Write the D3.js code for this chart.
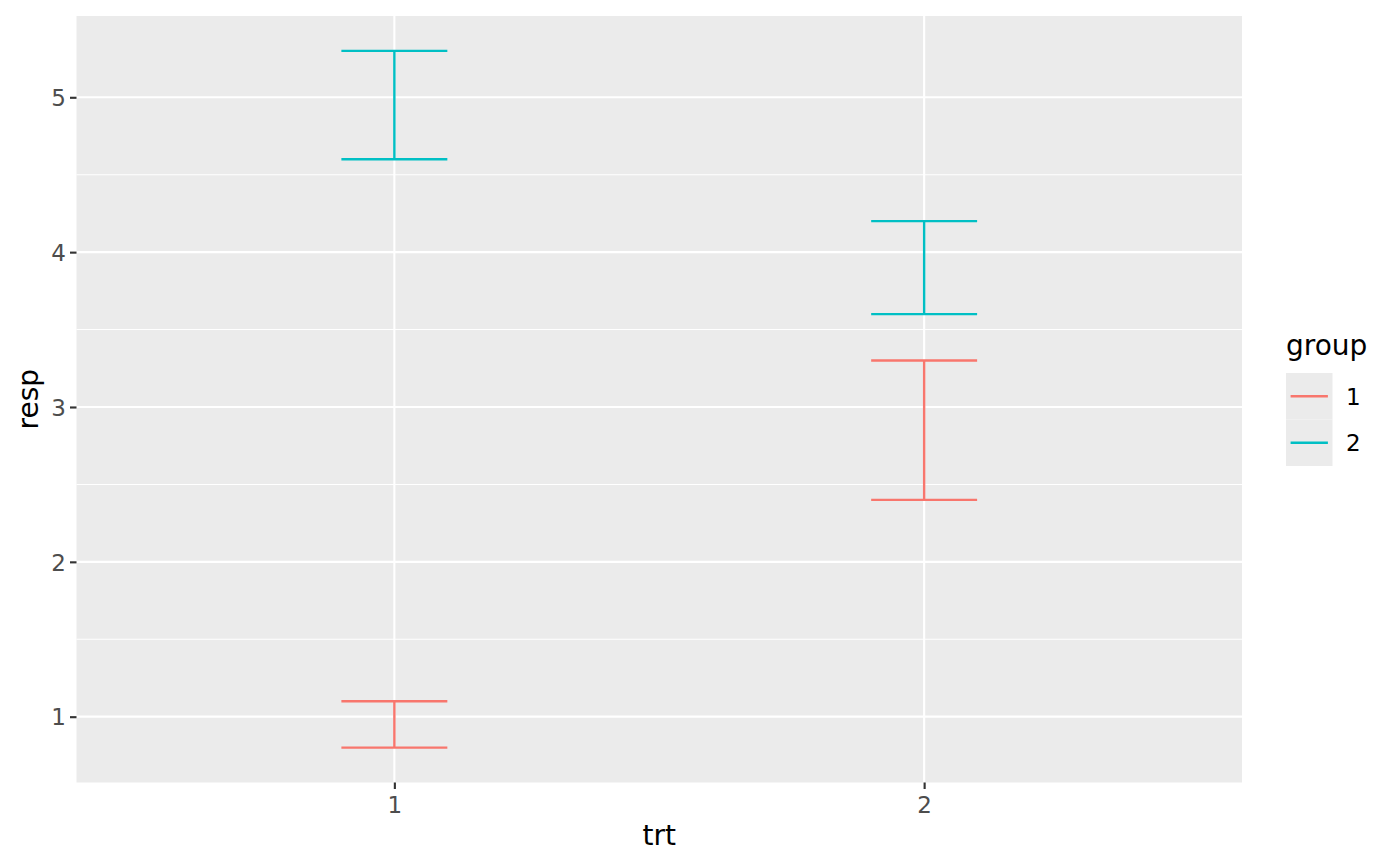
<!DOCTYPE html>
<html><head><meta charset="utf-8">
<script src="https://cdn.jsdelivr.net/npm/d3@7"></script>
<style>body{margin:0;background:#fff}text{font-family:"DejaVu Sans",sans-serif}</style>
</head><body><svg id="c" width="1400" height="866"></svg>
<script>
const trt = ["1","2"];
const groups = ["1","2"];
const colors = ["#F8766D","#00BFC4"];
const group = ["1","2","1","2"];
const trtOf = ["1","1","2","2"];
const lower = [0.8,4.6,2.4,3.6];
const upper = [1.1,5.3,3.3,4.2];
const yTicks = [1,2,3,4,5];

const svg = d3.select("#c");
const L=76.5, R=1242, T=16, B=782.5;
const xl = d3.scaleLinear().domain([0.4,2.6]).range([L,R]);
const y = d3.scaleLinear().domain([0.575,5.525]).range([B,T]);
const xOf = t => xl(+t);

svg.append("rect").attr("x",L).attr("y",T).attr("width",R-L).attr("height",B-T).attr("fill","#EBEBEB");
const minor = d3.range(1.5,5.5,1);
svg.selectAll(".ym").data(minor).join("line").attr("x1",L).attr("x2",R).attr("y1",d=>y(d)).attr("y2",d=>y(d)).attr("stroke","#fff").attr("stroke-width",1.07);
svg.selectAll(".yM").data(yTicks).join("line").attr("x1",L).attr("x2",R).attr("y1",d=>y(d)).attr("y2",d=>y(d)).attr("stroke","#fff").attr("stroke-width",2.13);
svg.selectAll(".xM").data(trt).join("line").attr("x1",d=>xOf(d)).attr("x2",d=>xOf(d)).attr("y1",T).attr("y2",B).attr("stroke","#fff").attr("stroke-width",2.13);

const ya = d3.axisLeft(y).tickValues(yTicks).tickFormat(d3.format("d")).tickSize(6.5).tickPadding(4);
const gy = svg.append("g").attr("transform",`translate(${L},0)`).call(ya);
const xa = d3.axisBottom(xl).tickValues(trt.map(Number)).tickFormat(d=>String(d)).tickSize(6.5).tickPadding(4);
const gx = svg.append("g").attr("transform",`translate(0,${B})`).call(xa);
[gx,gy].forEach(g=>{g.select(".domain").remove();g.selectAll("line").attr("stroke","#333").attr("stroke-width",2.13);g.selectAll("text").attr("fill","#4D4D4D").style("font-size","23px").style("font-family","DejaVu Sans");});
gx.selectAll("text").attr("y",null).attr("dy",null).attr("y",30.5);
gy.selectAll("text").attr("dy","0.36em");

const hw = xl(0.1)-xl(0);
const data = group.map((g,i)=>({g,t:trtOf[i],lo:lower[i],hi:upper[i],c:colors[groups.indexOf(g)]}));
const eb = svg.selectAll(".eb").data(data).join("g").attr("stroke",d=>d.c).attr("stroke-width",2.4).attr("fill","none");
eb.append("line").attr("x1",d=>xOf(d.t)-hw).attr("x2",d=>xOf(d.t)+hw).attr("y1",d=>y(d.hi)).attr("y2",d=>y(d.hi));
eb.append("line").attr("x1",d=>xOf(d.t)-hw).attr("x2",d=>xOf(d.t)+hw).attr("y1",d=>y(d.lo)).attr("y2",d=>y(d.lo));
eb.append("line").attr("x1",d=>xOf(d.t)).attr("x2",d=>xOf(d.t)).attr("y1",d=>y(d.lo)).attr("y2",d=>y(d.hi));

svg.append("text").attr("x",(L+R)/2).attr("y",845).attr("text-anchor","middle").style("font-size","28px").attr("fill","#000").text("trt");
svg.append("text").attr("transform",`translate(38,${(T+B)/2}) rotate(-90)`).attr("text-anchor","middle").style("font-size","28px").attr("fill","#000").text("resp");

svg.append("text").attr("x",1286).attr("y",355).style("font-size","28px").attr("fill","#000").text("group");
const lg = svg.selectAll(".lg").data(groups).join("g").attr("transform",(d,i)=>`translate(1286,${373+i*46.5})`);
lg.append("rect").attr("width",46.5).attr("height",46.5).attr("fill","#EBEBEB");
lg.append("line").attr("x1",4.6).attr("x2",41.9).attr("y1",23.25).attr("y2",23.25).attr("stroke",(d,i)=>colors[i]).attr("stroke-width",2.4);
lg.append("text").attr("x",60).attr("y",23.25).attr("dy","0.36em").style("font-size","23px").attr("fill","#000").text(d=>d);
</script></body></html>
